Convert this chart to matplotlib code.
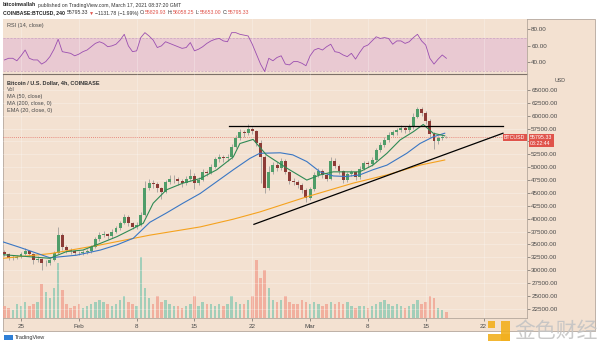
import numpy as np
import matplotlib
matplotlib.use("Agg")
import matplotlib.pyplot as plt
from matplotlib.patches import Rectangle

W, H = 600, 347
BG, FRAME, TXT = "#f3e1d1", "#b4a79c", "#4a4a4a"
UP, DOWN, WICK = "#4f9d69", "#8c3b36", "#909090"
VUP, VDN = "#8ecab3", "#f1a392"
RED = "#e0534a"
plt.rcParams.update({"font.family": ["Liberation Sans", "DejaVu Sans"], "font.size": 4.5})

# 12h candles, day offset from Jan 25 2021 (00:00)
t0, step = -2.0, 0.5
closes = [33100, 32400, 32400, 32600, 33200, 33800, 33100, 32000, 32200, 31300,
          31300, 32000, 33300, 36900, 34400, 33900, 33700, 33400, 33300, 33600,
          33700, 34500, 36000, 36900, 37000, 36600, 37500, 38100, 39100, 40400,
          39100, 38400, 38770, 40800, 46000, 47000, 46700, 45900, 45100, 47100,
          47700, 47700, 47300, 46900, 47700, 48300, 47000, 47600, 49000, 48900,
          50100, 51500, 52000, 51700, 51900, 54000, 55700, 56900, 56600, 57500,
          57000, 54700, 52000, 46000, 49000, 50400, 49900, 51300, 49000, 47300,
          47200, 46600, 45500, 44000, 45700, 48500, 49300, 48500, 47800, 51300,
          50300, 49200, 47600, 48600, 49000, 48100, 49700, 50800, 50700, 51400,
          53300, 54400, 55300, 56300, 56800, 57200, 57700, 57200, 57800, 59800,
          61400, 60500, 59000, 56400, 55000, 55600, 55900, 55795.33]
first_open = 33500
highs = [33900, 33300, 32900, 33000, 33500, 34300, 34000, 33300, 32700, 32400,
         31900, 32400, 33800, 38400, 37300, 34800, 34300, 34000, 33800, 34000,
         34100, 34900, 36400, 37400, 37600, 37300, 38000, 38600, 39600, 41000,
         40700, 39400, 39300, 41200, 47300, 47800, 47500, 47100, 46200, 47600,
         48500, 48400, 48100, 47700, 48300, 49700, 48800, 48000, 49600, 49500,
         50600, 52000, 52600, 52400, 52600, 54600, 56300, 57400, 57300, 58350,
         57900, 57300, 55200, 52400, 50300, 51000, 51000, 51800, 51500, 49300,
         47900, 47500, 47000, 45900, 46200, 49000, 49800, 49700, 48800, 52000,
         51700, 50600, 49500, 49000, 49500, 49300, 50200, 51300, 51300, 52000,
         53800, 54900, 55800, 56800, 57300, 57700, 58200, 58000, 58400, 60500,
         61700, 61700, 60900, 59300, 56800, 56100, 56400, 56058]
lows = [32800, 32000, 31900, 32100, 32400, 33000, 32800, 31100, 31600, 30000,
        30800, 31000, 31800, 33100, 34000, 33400, 33200, 32900, 32900, 33000,
        33200, 33400, 34300, 35700, 36400, 36100, 36300, 37200, 37800, 38900,
        38600, 37900, 38000, 38500, 40600, 45600, 46000, 45200, 43800, 44900,
        46800, 47000, 46600, 46200, 46500, 47300, 45800, 46600, 47300, 48200,
        48600, 49800, 51000, 51100, 51200, 51600, 53700, 55300, 55900, 56200,
        56400, 54200, 46900, 45000, 45600, 48600, 49200, 49500, 48600, 46700,
        46600, 46000, 44900, 43300, 43700, 45400, 48000, 47900, 47300, 47500,
        49800, 48700, 47000, 47200, 48200, 47600, 47800, 49400, 50100, 50300,
        51100, 52900, 54000, 54900, 56000, 56300, 56800, 56700, 56900, 57500,
        59500, 59900, 58400, 55800, 53600, 54500, 55200, 55653]
volume = [12, 10, 8, 14, 12, 16, 12, 14, 16, 34, 26, 20, 30, 55, 28, 14, 10, 12, 14, 10,
          12, 14, 16, 18, 16, 14, 12, 14, 18, 22, 16, 14, 12, 61, 30, 20, 14, 22, 16, 18,
          14, 12, 12, 10, 12, 14, 22, 12, 16, 14, 14, 12, 14, 12, 14, 22, 16, 14, 14, 18,
          22, 58, 40, 48, 30, 18, 16, 18, 22, 16, 14, 14, 18, 16, 14, 16, 14, 12, 14, 16,
          14, 16, 14, 16, 12, 10, 12, 12, 10, 12, 14, 16, 18, 14, 12, 14, 12, 10, 12, 14,
          18, 14, 16, 22, 20, 10, 8, 6]
rsi = [43, 45, 45, 42, 48, 55, 45, 43, 43, 38, 41, 47, 56, 68, 53, 52, 51, 48, 50, 53,
       55, 59, 63, 65, 63, 59, 60, 62, 67, 74, 60, 53, 54, 70, 76, 72, 67, 58, 60, 65,
       63, 61, 59, 57, 58, 64, 54, 56, 59, 63, 66, 68, 69, 66, 65, 76, 76, 74, 73, 72,
       62, 50, 38, 29, 45, 42, 46, 48, 38, 37, 41, 41, 39, 36, 48, 55, 57, 55, 59, 62,
       53, 52, 49, 47, 51, 44, 52, 59, 61, 66, 71, 69, 70, 69, 62, 66, 66, 63, 65, 70,
       74, 66, 61, 45, 38, 44, 49, 45]

ma200_t = [-2.2, 3.5, 9.6, 15.6, 21.7, 25.7, 28.9, 34.5, 40.2, 44.3, 48.3, 51.3]
ma200_v = [32300, 33200, 34900, 36800, 38400, 39900, 41300, 44200, 46900, 48500, 50400, 51400]
ma50_t = [-2.2, -0.1, 3.5, 6.7, 9.6, 11.6, 13.6, 15.6, 17.6, 19.6, 21.7, 23.7, 25.7, 27.7,
          28.9, 31.4, 32.9, 34.6, 36.2, 37.8, 39.4, 41.0, 42.6, 44.3, 46.7, 48.3, 49.9, 51.3]
ma50_v = [35500, 34400, 32400, 32900, 33900, 34900, 36200, 39300, 41100, 43000, 44900, 47200,
          49500, 51700, 52700, 52800, 52400, 51100, 49100, 48300, 48200, 48500, 49500, 50400,
          52700, 54600, 55900, 56600]
ema20_t = [-2.2, 3.5, 5.5, 7.5, 9.6, 11.6, 13.6, 14.8, 16.0, 17.6, 19.6, 21.7, 23.7, 25.7,
           26.5, 28.1, 29.7, 32.2, 34.6, 36.2, 37.8, 39.4, 41.0, 42.6, 44.3, 45.9, 47.5,
           48.7, 49.9, 51.3]
ema20_v = [33000, 32300, 33600, 33900, 35200, 36500, 38100, 39100, 43000, 45600, 46900,
           47800, 49500, 52000, 54600, 55400, 52400, 49800, 47500, 48500, 49100, 49100,
           49100, 50400, 52700, 55300, 56900, 58300, 56600, 56100]

res_t, res_v = [25.2, 58.35], [58000, 58000]
sup_t, sup_v = [28.2, 58.35], [38900, 56600]
last_price = 55795.33

date_ticks = [0, 7, 14, 21, 28, 35, 42, 49, 56]
date_labels = ["25", "Feb", "8", "15", "22", "Mar", "8", "15", "22"]
price_ticks = list(range(22500, 65001, 2500))
rsi_ticks = [40, 60, 80]

n = len(closes)
t = np.array([t0 + step * i for i in range(n)])
c = np.array(closes, float)
o = np.concatenate([[first_open], c[:-1]])
up = c >= o


def rect(x0, y0, x1, y1):
    return [x0 / W, 1 - y1 / H, (x1 - x0) / W, (y1 - y0) / H]


fig = plt.figure(figsize=(W / 100, H / 100), dpi=100, facecolor="white")
fig.patches.append(Rectangle((3 / W, 1 - 331 / H), 592 / W, 312 / H, transform=fig.transFigure,
                             facecolor=BG, edgecolor=FRAME, lw=0.6, zorder=-5))
XL = (-2.18, 61.26)

# RSI pane
ar = fig.add_axes(rect(3, 19, 527, 74))
ar.set_facecolor(BG)
ar.axhspan(30, 70, color="#e9c9d2", lw=0)
for lvl in (30, 70):
    ar.axhline(lvl, color="#c9a3c0", lw=0.5, ls=(0, (3, 2)))
ar.plot(t, rsi, color="#9b4fb0", lw=0.6)
ar.set_xlim(*XL)
ar.set_ylim(26, 92.5)
ar.set_xticks(date_ticks)
ar.tick_params(axis="x", length=0, labelbottom=False)
ar.yaxis.tick_right()
ar.set_yticks(rsi_ticks)
ar.set_yticklabels([f"{v:.2f}" for v in rsi_ticks], color=TXT)
ar.tick_params(axis="y", length=2, width=0.4, pad=1, colors=TXT)
ar.grid(True, axis="x", color="white", alpha=0.35, lw=0.5)
for s in ar.spines.values():
    s.set_visible(False)
ar.spines["bottom"].set_visible(True)
ar.spines["bottom"].set_color("#7d7168")
ar.spines["bottom"].set_linewidth(0.8)
ar.spines["right"].set_visible(True)
ar.spines["right"].set_color(FRAME)
ar.spines["right"].set_linewidth(0.6)
ar.text(0.008, 0.86, "RSI (14, close)", transform=ar.transAxes, fontsize=4, color=TXT)

# volume pane (below the price axes)
av = fig.add_axes(rect(3, 74, 527, 318))
av.set_facecolor(BG)
av.bar(t, volume, width=0.3, color=[VUP if u else VDN for u in up], alpha=0.8, lw=0)
av.set_xlim(*XL)
av.set_ylim(0, 245)
av.axis("off")

# price pane
ax = fig.add_axes(rect(3, 74, 527, 318))
ax.set_facecolor("none")
ax.set_xlim(*XL)
ax.set_ylim(20700, 68110)
ax.grid(True, color="white", alpha=0.35, lw=0.5)
ax.set_axisbelow(True)
ax.axhline(last_price, color=RED, lw=0.6, ls=(0, (1, 1.5)), alpha=0.8)
ax.vlines(t, lows, highs, color=WICK, lw=0.5, zorder=2)
ax.bar(t, np.maximum(np.abs(c - o), 80), bottom=np.minimum(o, c),
       width=0.36, color=[UP if u else DOWN for u in up], lw=0, zorder=3)
ax.plot(ma200_t, ma200_v, color="#f5a21e", lw=0.8, zorder=4)
ax.plot(ma50_t, ma50_v, color="#3a77c4", lw=0.8, zorder=4)
ax.plot(ema20_t, ema20_v, color="#2f8a55", lw=0.8, zorder=4)
ax.plot(res_t, res_v, color="black", lw=0.9, zorder=5)
ax.plot(sup_t, sup_v, color="black", lw=0.9, zorder=5)
ax.set_xticks(date_ticks)
ax.set_xticklabels(date_labels, color=TXT)
ax.tick_params(axis="x", length=2, width=0.4, pad=2, colors=TXT)
ax.yaxis.tick_right()
ax.set_yticks(price_ticks)
# the last-price tag covers the 55000 label, as in the original
ax.set_yticklabels(["" if v == 55000 else f"{v:.2f}" for v in price_ticks], color=TXT)
ax.tick_params(axis="y", length=2, width=0.4, pad=1, colors=TXT)
for s in ax.spines.values():
    s.set_visible(False)
ax.spines["bottom"].set_visible(True)
ax.spines["bottom"].set_color(FRAME)
ax.spines["bottom"].set_linewidth(0.6)
ax.spines["right"].set_visible(True)
ax.spines["right"].set_color(FRAME)
ax.spines["right"].set_linewidth(0.6)

legend_lines = ["Vol", "MA (50, close)", "MA (200, close, 0)", "EMA (20, close, 0)"]
ax.text(0.008, 0.965, "Bitcoin / U.S. Dollar, 4h, COINBASE", transform=ax.transAxes,
        fontsize=4, color="#333", fontweight="bold", va="center")
for k, s in enumerate(legend_lines):
    ax.text(0.008, 0.965 - 0.029 * (k + 1), s, transform=ax.transAxes, fontsize=4,
            color=TXT, va="center")

# last-price tags
yfrac = (last_price - 20700) / (68110 - 20700)
ax.text(0.997, yfrac, "BTCUSD", transform=ax.transAxes, ha="right", va="center",
        fontsize=3.8, color="white", bbox=dict(boxstyle="square,pad=0.25", fc=RED, ec="none"))
ax.text(1.006, yfrac - 0.012, f"{last_price:.2f}\n03:22:44", transform=ax.transAxes,
        ha="left", va="center", fontsize=3.8, color="white", linespacing=1.1,
        bbox=dict(boxstyle="square,pad=0.3", fc=RED, ec="none"), zorder=6)
fig.text(560 / W, 1 - 80 / H, "USD", fontsize=3.8, color=TXT, ha="center", va="center")

# header, chained left to right
ov = fig.add_axes([0, 0, 1, 1], zorder=20)
ov.axis("off")


def chain(pieces, x, y):
    prev = ov.text(x / W, 1 - y / H, pieces[0][0], fontsize=3.7, color=pieces[0][1],
                   fontweight=pieces[0][2], va="center", transform=ov.transAxes)
    for s, col, fw, gap in pieces[1:]:
        prev = ov.annotate(s, xy=(1, 0.5), xycoords=prev, xytext=(gap, 0),
                           textcoords="offset points", va="center", ha="left",
                           fontsize=3.7, color=col, fontweight=fw)


chain([("bitcoinwallah", "#222", "bold"),
       ("published on TradingView.com, March 17, 2021 08:37:20 GMT", "#333", "normal", 1.0)], 3, 5)
chain([("COINBASE:BTCUSD, 240", "#222", "bold"), ("55795.33", "#333", "normal", 1.0),
       ("▼", RED, "normal", 0.6), ("−1131.78 (−1.99%)", "#333", "normal", 0.6),
       ("O:", "#333", "normal", 1.0), ("55829.93", RED, "normal", 0),
       ("H:", "#333", "normal", 1.0), ("56058.25", RED, "normal", 0),
       ("L:", "#333", "normal", 1.0), ("55653.00", RED, "normal", 0),
       ("C:", "#333", "normal", 1.0), ("55795.33", RED, "normal", 0)], 3, 13)

# footer: TradingView mark and watermark
fig.patches.append(Rectangle((4 / W, 1 - 340 / H), 9 / W, 5 / H, transform=fig.transFigure,
                             facecolor="#2f7fd6", edgecolor="none"))
fig.text(15 / W, 1 - 337.5 / H, "TradingView", fontsize=4, color="#333", va="center")
for (x0, y0, x1, y1) in [(488, 321, 495, 328), (501, 321, 510, 341), (488, 334, 510, 341)]:
    ov.add_patch(Rectangle((x0 / W, 1 - y1 / H), (x1 - x0) / W, (y1 - y0) / H,
                           transform=ov.transAxes, facecolor="#f2b01e",
                           edgecolor="none", alpha=0.9))
ov.text(514 / W, 1 - 331 / H, "金色财经", fontsize=15, color="#c4c4c4", va="center",
        family=["Noto Sans CJK SC", "DejaVu Sans"], alpha=0.9, transform=ov.transAxes)

fig.savefig("out.png", dpi=100, facecolor="white")
